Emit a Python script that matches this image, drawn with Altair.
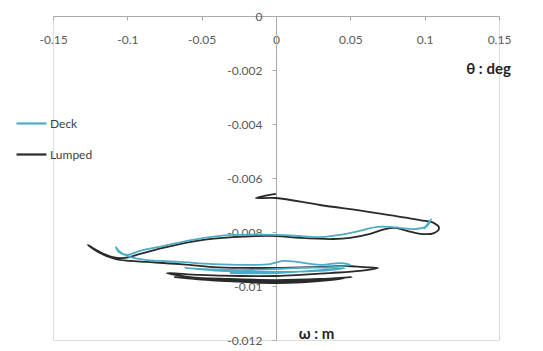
import altair as alt
import pandas as pd

# Lumped model trajectory (theta in deg, omega in m)
lumped_x = [0, -0.0135, 0, 0.0296, 0.0633, 0.0969, 0.1063, 0.1097, 0.1063, 0.0969,
            0.0882, 0.0801, 0.0734, 0.0633, 0.0498, 0.0384, 0.0162, 0, -0.0289, -0.0532,
            -0.0760, -0.0915, -0.1016, -0.1097, -0.1184, -0.1265, -0.1184, -0.1083, -0.0983, -0.0868,
            -0.0646, -0.0424, -0.0195, 0, 0.0249, 0.0478, 0.0585, 0.0686, 0.0565, 0.0363,
            0.0162, 0, -0.0242, -0.0511, -0.0734, -0.0579, -0.0310, 0, 0.0296, 0.0511,
            0.0363, 0, -0.0377, -0.0680, -0.0444, 0, 0.0363, 0.0464, 0.0162, -0.0242, -0.0579]
lumped_y = [-0.00659, -0.00674, -0.00674, -0.00700, -0.00726, -0.00756, -0.00767, -0.00785, -0.00804, -0.00807,
            -0.00796, -0.00785, -0.00789, -0.00807, -0.00822, -0.00826, -0.00822, -0.00815, -0.00819, -0.00833,
            -0.00859, -0.00881, -0.00896, -0.00893, -0.00874, -0.00848, -0.00878, -0.00900, -0.00907, -0.00911,
            -0.00919, -0.00930, -0.00933, -0.00933, -0.00930, -0.00926, -0.00930, -0.00933, -0.00944, -0.00952,
            -0.00959, -0.00963, -0.00963, -0.00959, -0.00952, -0.00967, -0.00974, -0.00978, -0.00974, -0.00967,
            -0.00974, -0.00985, -0.00981, -0.00967, -0.00978, -0.00989, -0.00978, -0.00970, -0.00981, -0.00981, -0.00970]

# Deck model trajectory
deck_x = [0.0996, 0.1043, 0.1016, 0.0935, 0.0834, 0.0767, 0.0680, 0.0585, 0.0431, 0.0296,
          0.0162, 0, -0.0289, -0.0532, -0.0760, -0.0915, -0.1003, -0.1057, -0.1077, -0.1057,
          -0.1003, -0.0915, -0.0868, -0.0646, -0.0424, -0.0195, -0.0040, 0.0047, 0.0141, 0.0296,
          0.0431, 0.0498, 0.0363, 0.0162, 0, -0.0242, -0.0511, -0.0612, -0.0377, 0,
          0.0363, 0.0464, 0.0229, 0, -0.0310]
deck_y = [-0.00789, -0.00752, -0.00778, -0.00789, -0.00785, -0.00781, -0.00781, -0.00793, -0.00811, -0.00819,
          -0.00815, -0.00811, -0.00811, -0.00826, -0.00852, -0.00870, -0.00885, -0.00874, -0.00856, -0.00870,
          -0.00889, -0.00900, -0.00904, -0.00911, -0.00919, -0.00922, -0.00919, -0.00907, -0.00911, -0.00922,
          -0.00915, -0.00922, -0.00930, -0.00933, -0.00937, -0.00941, -0.00937, -0.00933, -0.00944, -0.00948,
          -0.00941, -0.00933, -0.00944, -0.00952, -0.00952]

series_names = ["Deck", "Lumped"]
series_colors = ["#4bacc6", "#2a2a2a"]
x_ticks = [-0.15, -0.1, -0.05, 0, 0.05, 0.1, 0.15]
y_ticks = [0, -0.002, -0.004, -0.006, -0.008, -0.01, -0.012]

rows = []
for i, (a, b) in enumerate(zip(lumped_x, lumped_y)):
    rows.append({"series": "Lumped", "theta": a, "omega": b, "idx": i, "grp": 0})
for i, (a, b) in enumerate(zip(deck_x, deck_y)):
    rows.append({"series": "Deck", "theta": a, "omega": b, "idx": i, "grp": 1})
df = pd.DataFrame(rows)

W, H = 446, 324
FONT = "Liberation Sans Narrow, Lato, sans-serif"

chart = alt.Chart(df).mark_line(strokeWidth=1.8, interpolate="catmull-rom").encode(
    x=alt.X("theta:Q",
            scale=alt.Scale(domain=[-0.15, 0.15], nice=False, zero=False),
            axis=alt.Axis(orient="bottom", offset=-H, values=x_ticks, grid=False,
                          labelExpr="toString(datum.value)", labelOverlap=False,
                          labelFlush=False,
                          labelFontSize=12, labelColor="#595959", labelFont=FONT,
                          labelPadding=14, tickSize=4, tickColor="#aaaaaa",
                          domainColor="#aaaaaa", title="θ : deg",
                          titleFont=FONT, titleFontSize=15, titleFontWeight="bold",
                          titleColor="#222222", titleX=435, titleY=52,
                          titleAlign="center", titleBaseline="middle")),
    y=alt.Y("omega:Q",
            scale=alt.Scale(domain=[-0.012, 0], nice=False, zero=False),
            axis=alt.Axis(orient="left", offset=-W / 2, values=y_ticks, grid=False,
                          labelExpr="toString(datum.value)", labelOverlap=False,
                          labelFlush=False,
                          labelFontSize=12, labelColor="#595959", labelFont=FONT,
                          labelPadding=10, tickSize=4, tickColor="#aaaaaa",
                          domainColor="#aaaaaa", title="ω : m",
                          titleFont=FONT, titleFontSize=15, titleFontWeight="bold",
                          titleColor="#222222", titleX=40, titleY=317, titleAngle=0,
                          titleAlign="center", titleBaseline="middle")),
    color=alt.Color("series:N",
                    scale=alt.Scale(domain=series_names, range=series_colors),
                    legend=alt.Legend(orient="none", legendX=-38, legendY=91, title=None,
                                      symbolType="stroke", symbolSize=900,
                                      symbolStrokeWidth=2.2, labelFontSize=12,
                                      labelFont=FONT, labelColor="#404040",
                                      labelOffset=2, rowPadding=8)),
    detail="grp:N",
    order=alt.Order("idx:Q"),
).properties(
    width=W, height=H,
    padding={"left": 45, "top": 8, "right": 30, "bottom": 10},
    autosize=alt.AutoSizeParams(type="none"),
).configure_view(stroke=None).configure(background="white")

chart.save("out.html", embed_options={"renderer": "svg", "actions": False})
